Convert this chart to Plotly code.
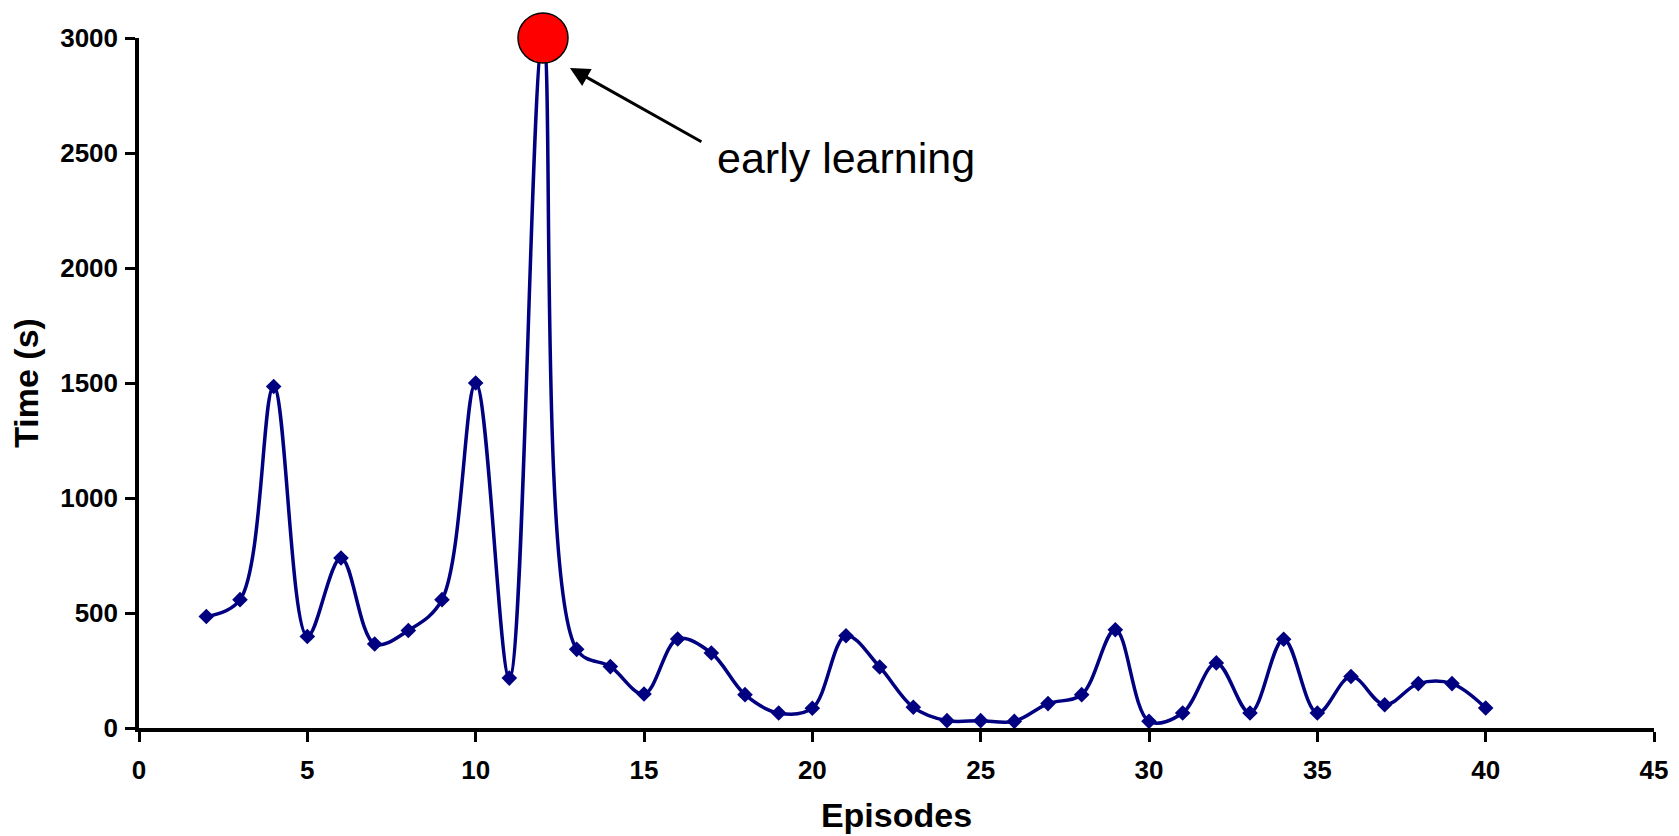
import plotly.graph_objects as go

# Episode index and the time taken (seconds) for each episode
episodes = list(range(2, 41))
times = [485, 558, 1485, 398, 739, 365, 424, 558, 1500, 217,
         3000, 342, 267, 148, 387, 326, 145, 65, 86, 401,
         265, 90, 32, 32, 29, 106, 145, 427, 29, 65,
         283, 65, 386, 65, 224, 101, 193, 193, 87]

# Highlighted episode
peak_episode = 12
peak_time = 3000

x_ticks = [0, 5, 10, 15, 20, 25, 30, 35, 40, 45]
y_ticks = [0, 500, 1000, 1500, 2000, 2500, 3000]

navy = "#000080"

fig = go.Figure()
fig.add_trace(go.Scatter(
    x=episodes, y=times, mode="lines+markers",
    line=dict(color=navy, width=3.5, shape="spline", smoothing=1.0),
    marker=dict(symbol="diamond", size=12, color=navy),
    showlegend=False,
))
fig.add_trace(go.Scatter(
    x=[peak_episode], y=[peak_time], mode="markers",
    marker=dict(symbol="circle", size=50, color="#FF0000",
                line=dict(color="black", width=1.5)),
    cliponaxis=False, showlegend=False,
))

# Arrow pointing at the peak, with its label
fig.add_annotation(
    x=12.8, y=2870, ax=16.75, ay=2545, xref="x", yref="y",
    axref="x", ayref="y", text="", showarrow=True,
    arrowhead=2, arrowsize=1.3, arrowwidth=3, arrowcolor="black",
)
fig.add_annotation(
    x=21.0, y=2480, xref="x", yref="y", text="early learning",
    showarrow=False, xanchor="center", yanchor="middle",
    font=dict(family="Liberation Sans, Arial", size=43, color="black"),
)

tick_font = dict(family="Liberation Sans, Arial", size=26, color="black",
                 weight="bold")
title_font = dict(family="Liberation Sans, Arial", size=34, color="black")

fig.update_xaxes(
    range=[0, 45], tickvals=x_ticks, ticktext=[str(v) for v in x_ticks],
    showline=True, linecolor="black", linewidth=3.5,
    ticks="outside", ticklen=10, tickwidth=3, tickcolor="black",
    tickfont=tick_font, ticklabelstandoff=6, showgrid=False, zeroline=False,
    automargin=False,
    title=dict(text="<b>Episodes</b>", font=title_font, standoff=20),
)
fig.update_yaxes(
    range=[0, 3000], tickvals=y_ticks, ticktext=[str(v) for v in y_ticks],
    showline=True, linecolor="black", linewidth=3.5,
    ticks="outside", ticklen=10, tickwidth=3, tickcolor="black",
    tickfont=tick_font, ticklabelstandoff=2, showgrid=False, zeroline=False,
    automargin=False,
    title=dict(text="<b>Time (s)</b>", font=title_font, standoff=12),
)
fig.update_layout(
    width=1679, height=836,
    margin=dict(l=139, r=25, t=38, b=108),
    plot_bgcolor="white", paper_bgcolor="white",
    font=dict(family="Liberation Sans, Arial", color="black"),
)

fig.write_html("out.html")
